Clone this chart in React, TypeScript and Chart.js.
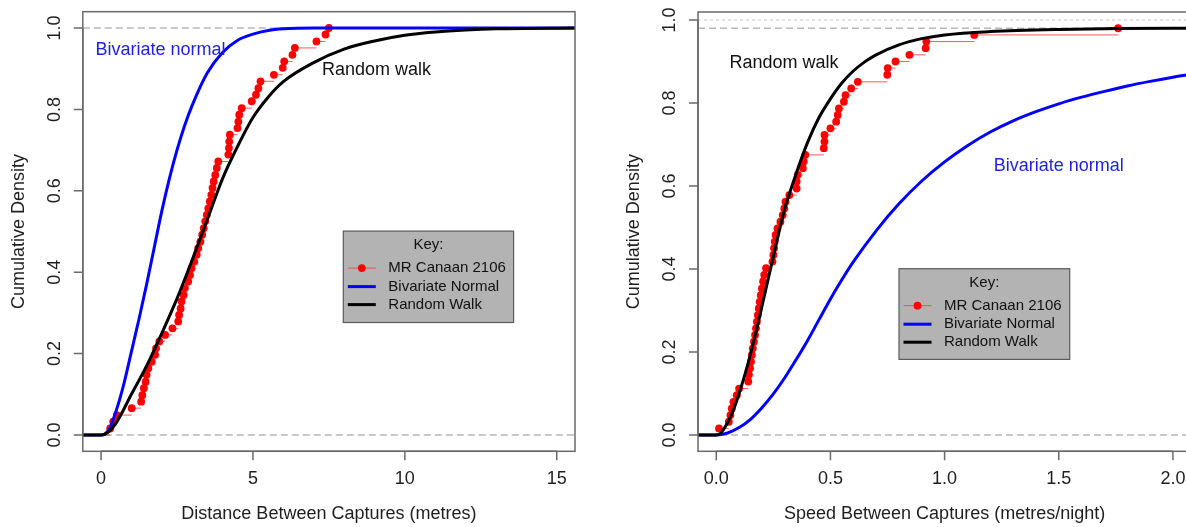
import React, { useEffect, useRef } from 'react';
import { Chart, registerables } from 'chart.js';

Chart.register(...registerables);

const FONT = '"Liberation Sans", Arial, Helvetica, sans-serif';

// ---------------- Left panel: distance between captures ----------------
const distTicks = [0, 5, 10, 15];
const distTickLabels = ['0', '5', '10', '15'];
const densityTicks = [0, 0.2, 0.4, 0.6, 0.8, 1.0];
const densityTickLabels = ['0.0', '0.2', '0.4', '0.6', '0.8', '1.0'];

const distObsX = [0.30, 0.40, 0.52, 1.01, 1.32, 1.36, 1.41, 1.47, 1.50, 1.56, 1.67, 1.78, 1.81, 1.92, 2.11, 2.35, 2.54, 2.57, 2.62, 2.65, 2.72, 2.76, 2.87, 2.93, 2.98, 3.07, 3.15, 3.20, 3.27, 3.33, 3.38, 3.43, 3.48, 3.53, 3.58, 3.63, 3.67, 3.71, 3.76, 3.81, 3.86, 4.19, 4.21, 4.22, 4.24, 4.49, 4.52, 4.55, 4.63, 4.96, 5.10, 5.18, 5.25, 5.69, 5.98, 6.03, 6.30, 6.38, 7.09, 7.39, 7.50];
const distObsY = [0.016, 0.033, 0.049, 0.066, 0.082, 0.098, 0.115, 0.131, 0.148, 0.164, 0.180, 0.197, 0.213, 0.230, 0.246, 0.262, 0.279, 0.295, 0.311, 0.328, 0.344, 0.361, 0.377, 0.393, 0.410, 0.426, 0.443, 0.459, 0.475, 0.492, 0.508, 0.525, 0.541, 0.557, 0.574, 0.590, 0.607, 0.623, 0.639, 0.656, 0.672, 0.689, 0.705, 0.721, 0.738, 0.754, 0.770, 0.787, 0.803, 0.820, 0.836, 0.852, 0.869, 0.885, 0.902, 0.918, 0.934, 0.951, 0.967, 0.984, 1.000];

const bnDistX = [-0.6, 0, 0.25, 0.5, 0.75, 1.0, 1.25, 1.5, 1.75, 2.0, 2.25, 2.5, 2.75, 3.0, 3.5, 4.0, 4.5, 5.0, 5.5, 6.0, 7.0, 15.6];
const bnDistY = [0, 0, 0.012, 0.06, 0.125, 0.205, 0.285, 0.37, 0.46, 0.55, 0.63, 0.70, 0.76, 0.81, 0.89, 0.94, 0.97, 0.985, 0.994, 0.998, 1.0, 1.0];

const rwDistX = [-0.6, 0, 0.25, 0.5, 1.0, 1.5, 2.0, 2.5, 3.0, 3.5, 4.0, 4.5, 5.0, 5.5, 6.0, 7.0, 8.0, 9.0, 10.0, 11.0, 12.0, 13.0, 15.6];
const rwDistY = [0, 0, 0.008, 0.03, 0.10, 0.17, 0.25, 0.335, 0.43, 0.53, 0.63, 0.71, 0.78, 0.83, 0.868, 0.915, 0.948, 0.968, 0.982, 0.99, 0.995, 0.998, 1.0];

const distRefLines = [0, 1];

// ---------------- Right panel: speed between captures ----------------
const speedTicks = [0, 0.5, 1.0, 1.5, 2.0];
const speedTickLabels = ['0.0', '0.5', '1.0', '1.5', '2.0'];

const speedObsX = [0.012, 0.055, 0.062, 0.068, 0.075, 0.090, 0.100, 0.140, 0.143, 0.148, 0.152, 0.156, 0.160, 0.165, 0.170, 0.174, 0.178, 0.182, 0.186, 0.190, 0.195, 0.200, 0.205, 0.210, 0.218, 0.246, 0.250, 0.253, 0.256, 0.260, 0.268, 0.281, 0.291, 0.298, 0.303, 0.320, 0.352, 0.352, 0.357, 0.379, 0.383, 0.390, 0.471, 0.474, 0.474, 0.500, 0.525, 0.532, 0.537, 0.559, 0.566, 0.591, 0.620, 0.749, 0.751, 0.785, 0.846, 0.917, 0.920, 1.130, 1.760];
const speedObsY = [0.016, 0.032, 0.048, 0.064, 0.080, 0.096, 0.112, 0.129, 0.145, 0.161, 0.177, 0.193, 0.209, 0.225, 0.241, 0.257, 0.273, 0.289, 0.305, 0.321, 0.337, 0.353, 0.370, 0.386, 0.402, 0.418, 0.434, 0.450, 0.466, 0.482, 0.498, 0.514, 0.530, 0.546, 0.562, 0.578, 0.594, 0.611, 0.627, 0.643, 0.659, 0.675, 0.691, 0.707, 0.723, 0.739, 0.755, 0.771, 0.787, 0.803, 0.819, 0.835, 0.851, 0.868, 0.884, 0.900, 0.916, 0.932, 0.948, 0.964, 0.980];

const bnSpeedX = [-0.08, 0, 0.05, 0.1, 0.15, 0.2, 0.25, 0.3, 0.35, 0.4, 0.45, 0.5, 0.55, 0.6, 0.7, 0.8, 0.9, 1.0, 1.1, 1.2, 1.3, 1.4, 1.5, 1.6, 1.7, 1.8, 1.9, 2.0, 2.08];
const bnSpeedY = [0, 0, 0.005, 0.018, 0.038, 0.066, 0.099, 0.138, 0.182, 0.228, 0.278, 0.328, 0.374, 0.417, 0.492, 0.557, 0.612, 0.658, 0.697, 0.73, 0.757, 0.779, 0.798, 0.814, 0.828, 0.841, 0.852, 0.862, 0.869];

const rwSpeedX = [-0.08, 0, 0.02, 0.05, 0.075, 0.1, 0.125, 0.15, 0.175, 0.2, 0.225, 0.25, 0.275, 0.3, 0.35, 0.4, 0.45, 0.5, 0.55, 0.6, 0.65, 0.7, 0.8, 0.9, 1.0, 1.2, 1.5, 2.0, 2.08];
const rwSpeedY = [0, 0, 0.005, 0.03, 0.06, 0.10, 0.145, 0.195, 0.25, 0.31, 0.37, 0.43, 0.49, 0.545, 0.63, 0.705, 0.765, 0.81, 0.848, 0.877, 0.899, 0.916, 0.94, 0.955, 0.964, 0.972, 0.977, 0.98, 0.98];

const speedRefLines = [0, 0.98];
const speedDottedLines = [1.0];

const legendTitle = 'Key:';
const legendLabels = ['MR Canaan 2106', 'Bivariate Normal', 'Random Walk'];

// ---------------- helpers ----------------
type Note = { text: string; x: number; y: number; color: string };
type Spec = {
  width: number;
  height: number;
  left: number;
  xMin: number; xMax: number; yMin: number; yMax: number;
  padding: { left: number; right: number; top: number; bottom: number };
  xTicks: number[]; xTickLabels: string[];
  yTicks: number[]; yTickLabels: string[];
  xTitle: string; yTitle: string;
  obsX: number[]; obsY: number[];
  bnX: number[]; bnY: number[];
  rwX: number[]; rwY: number[];
  refLines: number[]; dottedLines: number[];
  notes: Note[];
  legend: { left: number; top: number; width: number; height: number };
};

const pts = (xs: number[], ys: number[]) => xs.map((x, i) => ({ x, y: ys[i] }));

function stepSegments(xs: number[], ys: number[], xMin: number, xMax: number) {
  const out: { x: number; y: number | null }[] = [];
  out.push({ x: xMin, y: 0 }, { x: xs[0], y: 0 }, { x: xs[0], y: null });
  for (let i = 0; i < xs.length; i++) {
    const nx = i < xs.length - 1 ? xs[i + 1] : xMax;
    out.push({ x: xs[i], y: ys[i] }, { x: nx, y: ys[i] }, { x: nx, y: null });
  }
  return out;
}

function makePlugin(spec: Spec) {
  return {
    id: 'rstyle',
    afterDraw(chart: any) {
      const { ctx, chartArea: a, scales } = chart;
      const xs = scales.x;
      const ys = scales.y;
      ctx.save();
      const axisColor = '#6a6a6a';
      // box
      ctx.strokeStyle = axisColor;
      ctx.lineWidth = 1.5;
      ctx.strokeRect(a.left, a.top, a.right - a.left, a.bottom - a.top);
      // axes + ticks
      const tl = 9;
      ctx.beginPath();
      const xp = spec.xTicks.map((t) => xs.getPixelForValue(t));
      const yp = spec.yTicks.map((t) => ys.getPixelForValue(t));
      ctx.moveTo(xp[0], a.bottom);
      ctx.lineTo(xp[xp.length - 1], a.bottom);
      xp.forEach((p) => { ctx.moveTo(p, a.bottom); ctx.lineTo(p, a.bottom + tl); });
      ctx.moveTo(a.left, yp[0]);
      ctx.lineTo(a.left, yp[yp.length - 1]);
      yp.forEach((p) => { ctx.moveTo(a.left, p); ctx.lineTo(a.left - tl, p); });
      ctx.stroke();

      // tick labels
      ctx.fillStyle = '#1e1e1e';
      ctx.font = `18px ${FONT}`;
      ctx.textAlign = 'center';
      ctx.textBaseline = 'middle';
      xp.forEach((p, i) => ctx.fillText(spec.xTickLabels[i], p, a.bottom + 27.5));
      yp.forEach((p, i) => {
        ctx.save();
        ctx.translate(a.left - 28, p);
        ctx.rotate(-Math.PI / 2);
        ctx.fillText(spec.yTickLabels[i], 0, 0);
        ctx.restore();
      });
      // titles
      ctx.fillText(spec.xTitle, (a.left + a.right) / 2, a.bottom + 63);
      ctx.save();
      ctx.translate(a.left - 64, (a.top + a.bottom) / 2);
      ctx.rotate(-Math.PI / 2);
      ctx.fillText(spec.yTitle, 0, 0);
      ctx.restore();

      // notes
      spec.notes.forEach((n) => {
        ctx.fillStyle = n.color;
        ctx.fillText(n.text, xs.getPixelForValue(n.x), ys.getPixelForValue(n.y));
      });

      // legend
      const L = spec.legend;
      ctx.fillStyle = '#b3b3b3';
      ctx.fillRect(L.left, L.top, L.width, L.height);
      ctx.strokeStyle = '#5a5a5a';
      ctx.lineWidth = 1.2;
      ctx.strokeRect(L.left, L.top, L.width, L.height);
      ctx.font = `15px ${FONT}`;
      ctx.fillStyle = '#111';
      ctx.textAlign = 'center';
      ctx.fillText(legendTitle, L.left + L.width / 2, L.top + 14);
      ctx.textAlign = 'left';
      const rowY = [37, 55.5, 73.5];
      const lx0 = L.left + 4.5;
      const lx1 = L.left + 32.5;
      rowY.forEach((dy, i) => {
        const y = L.top + dy;
        ctx.fillStyle = '#111';
        ctx.fillText(legendLabels[i], L.left + 45, y);
        ctx.beginPath();
        ctx.moveTo(lx0, y);
        ctx.lineTo(lx1, y);
        if (i === 0) {
          ctx.strokeStyle = 'rgba(255,60,60,0.85)';
          ctx.lineWidth = 1;
          ctx.stroke();
          ctx.beginPath();
          ctx.fillStyle = '#ff0000';
          ctx.arc((lx0 + lx1) / 2, y, 3.9, 0, Math.PI * 2);
          ctx.fill();
        } else {
          ctx.strokeStyle = i === 1 ? '#0000ff' : '#000000';
          ctx.lineWidth = 3;
          ctx.stroke();
        }
      });
      ctx.restore();
    },
  };
}

function buildConfig(spec: Spec): any {
  const datasets: any[] = [];
  spec.refLines.forEach((v) => {
    datasets.push({
      data: [{ x: spec.xMin, y: v }, { x: spec.xMax, y: v }],
      borderColor: '#b8b8b8', borderWidth: 1.5, borderDash: [7, 4],
      pointRadius: 0, order: 10,
    });
  });
  spec.dottedLines.forEach((v) => {
    datasets.push({
      data: [{ x: spec.xMin, y: v }, { x: spec.xMax, y: v }],
      borderColor: '#c4c4c4', borderWidth: 1, borderDash: [3, 3],
      pointRadius: 0, order: 10,
    });
  });
  datasets.push({
    data: stepSegments(spec.obsX, spec.obsY, spec.xMin, spec.xMax),
    borderColor: 'rgba(255,60,60,0.85)', borderWidth: 1,
    pointRadius: 0, spanGaps: false, order: 6,
  });
  datasets.push({
    data: pts(spec.obsX, spec.obsY),
    showLine: false, pointRadius: 3.9, pointBackgroundColor: '#ff0000',
    pointBorderWidth: 0, pointBorderColor: '#ff0000', order: 5,
  });
  datasets.push({
    data: pts(spec.bnX, spec.bnY),
    borderColor: '#0000ff', borderWidth: 3, pointRadius: 0,
    cubicInterpolationMode: 'monotone', order: 2,
  });
  datasets.push({
    data: pts(spec.rwX, spec.rwY),
    borderColor: '#000000', borderWidth: 3, pointRadius: 0,
    cubicInterpolationMode: 'monotone', order: 1,
  });
  return {
    type: 'line',
    data: { datasets },
    options: {
      responsive: false,
      animation: false,
      events: [],
      layout: { padding: spec.padding },
      scales: {
        x: { type: 'linear', min: spec.xMin, max: spec.xMax, display: false },
        y: { type: 'linear', min: spec.yMin, max: spec.yMax, display: false },
      },
      plugins: { legend: { display: false }, tooltip: { enabled: false } },
    },
    plugins: [makePlugin(spec)],
  };
}

const leftSpec: Spec = {
  width: 600, height: 527, left: 0,
  xMin: -0.6, xMax: 15.6, yMin: -0.04, yMax: 1.04,
  padding: { left: 82.8, right: 25, top: 11.7, bottom: 75.7 },
  xTicks: distTicks, xTickLabels: distTickLabels,
  yTicks: densityTicks, yTickLabels: densityTickLabels,
  xTitle: 'Distance Between Captures (metres)', yTitle: 'Cumulative Density',
  obsX: distObsX, obsY: distObsY,
  bnX: bnDistX, bnY: bnDistY, rwX: rwDistX, rwY: rwDistY,
  refLines: distRefLines, dottedLines: [],
  notes: [
    { text: 'Bivariate normal', x: 1.96, y: 0.947, color: '#1f1fe0' },
    { text: 'Random walk', x: 9.07, y: 0.896, color: '#111' },
  ],
  legend: { left: 343.3, top: 231.1, width: 170.3, height: 91.4 },
};

const rightSpec: Spec = {
  width: 620, height: 527, left: 600,
  xMin: -0.08, xMax: 2.08, yMin: -0.0392, yMax: 1.0192,
  padding: { left: 98, right: 28.8, top: 12, bottom: 75.7 },
  xTicks: speedTicks, xTickLabels: speedTickLabels,
  yTicks: densityTicks, yTickLabels: densityTickLabels,
  xTitle: 'Speed Between Captures (metres/night)', yTitle: 'Cumulative Density',
  obsX: speedObsX, obsY: speedObsY,
  bnX: bnSpeedX, bnY: bnSpeedY, rwX: rwSpeedX, rwY: rwSpeedY,
  refLines: speedRefLines, dottedLines: speedDottedLines,
  notes: [
    { text: 'Random walk', x: 0.297, y: 0.897, color: '#111' },
    { text: 'Bivariate normal', x: 1.50, y: 0.647, color: '#1f1fe0' },
  ],
  legend: { left: 299, top: 268.7, width: 170.7, height: 90.7 },
};

function Panel({ spec }: { spec: Spec }) {
  const ref = useRef<HTMLCanvasElement | null>(null);
  useEffect(() => {
    if (!ref.current) return;
    const chart = new Chart(ref.current, buildConfig(spec));
    return () => chart.destroy();
  }, [spec]);
  return (
    <canvas
      ref={ref}
      width={spec.width}
      height={spec.height}
      style={{ position: 'absolute', left: spec.left, top: 0, width: spec.width, height: spec.height, display: 'block' }}
    />
  );
}

export default function App() {
  return (
    <div style={{ position: 'fixed', left: 0, top: 0, width: 1186, height: 527, overflow: 'hidden', background: '#ffffff' }}>
      <Panel spec={leftSpec} />
      <Panel spec={rightSpec} />
    </div>
  );
}
